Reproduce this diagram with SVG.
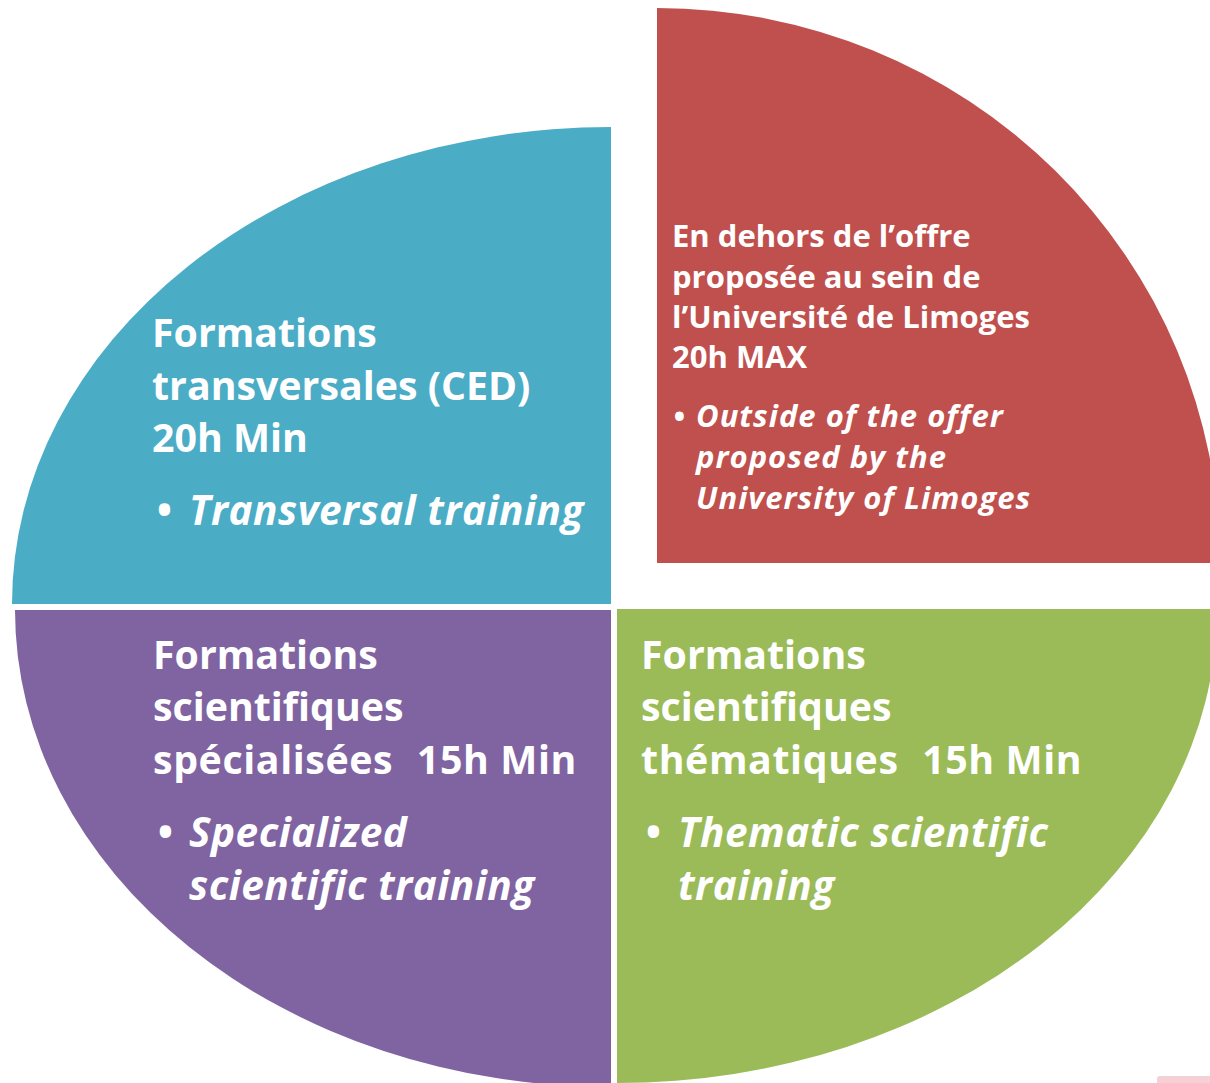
<svg xmlns="http://www.w3.org/2000/svg" width="1210" height="1083" viewBox="0 0 1210 1083">
  <style>
    text { font-family: "Open Sans", "Noto Sans", "DejaVu Sans", sans-serif; fill: #FFFFFF; font-weight: bold; white-space: pre; }
    .big { font-size: 39.3px; }
    .wide { letter-spacing: 0.6px; }
    .bigit { font-size: 40.5px; font-style: italic; letter-spacing: 0.5px; }
    .small { font-size: 31px; }
    .smallit { font-size: 31px; font-style: italic; letter-spacing: 1px; }
  </style>
  <rect width="1210" height="1083" fill="#FFFFFF"/>

  <g id="transversales">
    <path d="M611,604 L12,604 A599,477 0 0 1 611,127 Z" fill="#4BACC6"/>
    <text class="big" x="152" y="347">Formations</text>
    <text class="big" x="152" y="400">transversales (CED)</text>
    <text class="big" x="152" y="452">20h Min</text>
    <text class="bigit" y="525"><tspan x="156">•</tspan><tspan x="189">Transversal training</tspan></text>
  </g>

  <g id="hors-offre">
    <path d="M657,563 L657,8 A563,555 0 0 1 1220,563 Z" fill="#C0504D"/>
    <text class="small" x="672" y="247">En dehors de l’offre</text>
    <text class="small" x="672" y="288">proposée au sein de</text>
    <text class="small" x="672" y="328">l’Université de Limoges</text>
    <text class="small" x="672" y="368">20h MAX</text>
    <text class="smallit" y="427"><tspan x="673">•</tspan><tspan x="696">Outside of the offer</tspan></text>
    <text class="smallit" x="696" y="468">proposed by the</text>
    <text class="smallit" x="696" y="509">University of Limoges</text>
  </g>

  <g id="specialisees">
    <path d="M611,610 L611,1087 A596,477 0 0 1 15,610 Z" fill="#8064A2"/>
    <text class="big" x="153" y="669">Formations</text>
    <text class="big" x="153" y="721">scientifiques</text>
    <text class="big wide" x="153" y="774">spécialisées  <tspan dx="2">15h Min</tspan></text>
    <text class="bigit" y="847"><tspan x="157">•</tspan><tspan x="189">Specialized</tspan></text>
    <text class="bigit" x="189" y="900">scientific training</text>
  </g>

  <g id="thematiques">
    <path d="M617,609 L1217,609 A600,474 0 0 1 617,1083 Z" fill="#9BBB59"/>
    <text class="big" x="641" y="669">Formations</text>
    <text class="big" x="641" y="721">scientifiques</text>
    <text class="big wide" x="641" y="774">thématiques  <tspan dx="2">15h Min</tspan></text>
    <text class="bigit" y="847"><tspan x="645">•</tspan><tspan x="678">Thematic scientific</tspan></text>
    <text class="bigit" x="678" y="900">training</text>
  </g>

  <rect x="1157" y="1076" width="60" height="12" rx="3" fill="#F5D0D4"/>
</svg>
